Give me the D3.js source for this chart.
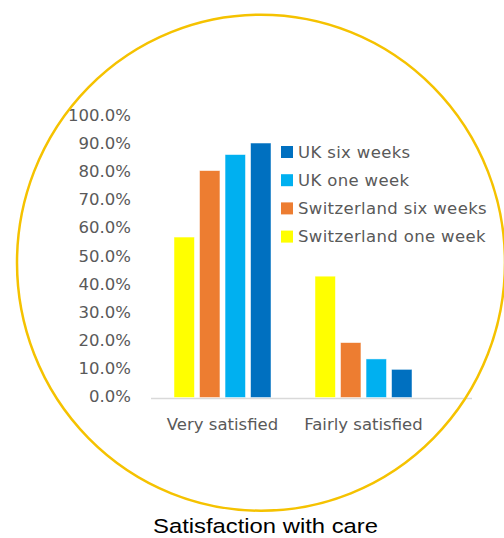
<!DOCTYPE html>
<html><head><meta charset="utf-8">
<script src="https://cdn.jsdelivr.net/npm/d3@7/dist/d3.min.js"></script>
<style>html,body{margin:0;padding:0;background:#fff;}svg{display:block;}</style>
</head><body>
<svg id="chart" width="504" height="538"></svg>
<script>
const categories = ["Very satisfied", "Fairly satisfied"];
const seriesNames = ["Switzerland one week", "Switzerland six weeks", "UK one week", "UK six weeks"];
const switzerlandOneWeek = [57.0, 43.1];
const switzerlandSixWeeks = [80.6, 19.5];
const ukOneWeek = [86.3, 13.7];
const ukSixWeeks = [90.4, 10.0];
const seriesValues = [switzerlandOneWeek, switzerlandSixWeeks, ukOneWeek, ukSixWeeks];
const seriesColors = ["#FFFF00", "#ED7D31", "#00B0F0", "#0070C0"];
const legendOrder = ["UK six weeks", "UK one week", "Switzerland six weeks", "Switzerland one week"];
const yTicks = [0, 10, 20, 30, 40, 50, 60, 70, 80, 90, 100];
const titleText = "Satisfaction with care";

const svg = d3.select("#chart");
const grayFont = "'DejaVu Sans', 'Open Sans', sans-serif";
const textGray = "#595959";
const fs = 16.5;

const y = d3.scaleLinear().domain([0, 100]).range([397.5, 116]);
const x0 = d3.scaleBand().domain(categories).range([152, 434]);
const x1 = d3.scaleBand().domain(seriesNames).range([22, 119]).paddingInner(0.2);
const color = d3.scaleOrdinal().domain(seriesNames).range(seriesColors);

// axis baseline
svg.append("line").attr("x1", 151).attr("x2", 472)
  .attr("y1", y(0) + 1).attr("y2", y(0) + 1)
  .attr("stroke", "#d9d9d9").attr("stroke-width", 1.5);

// y axis
const yAxis = d3.axisLeft(y).tickValues(yTicks).tickSize(0).tickPadding(0)
  .tickFormat(d => d3.format(".1f")(d) + "%");
const gy = svg.append("g").attr("transform", "translate(131,-1)").call(yAxis);
gy.select(".domain").remove();
gy.selectAll("text").attr("fill", textGray).attr("font-family", grayFont).attr("font-size", fs);

// bars
const rows = categories.map((c, i) => ({cat: c, vals: seriesNames.map((s, j) => ({s, v: seriesValues[j][i]}))}));
const g = svg.append("g").selectAll("g").data(rows).join("g")
  .attr("transform", d => `translate(${x0(d.cat)},0)`);
g.selectAll("rect").data(d => d.vals).join("rect")
  .attr("x", d => x1(d.s)).attr("width", x1.bandwidth())
  .attr("y", d => y(d.v)).attr("height", d => y(0) - y(d.v))
  .attr("fill", d => color(d.s))
  .attr("stroke", "rgba(255,255,255,0.6)").attr("stroke-width", 0.8);

// x axis labels
const xAxis = d3.axisBottom(x0).tickSize(0).tickPadding(0);
const gx = svg.append("g").attr("transform", "translate(0,418)").call(xAxis);
gx.select(".domain").remove();
gx.selectAll("text").attr("fill", textGray).attr("font-family", grayFont).attr("font-size", fs);

// legend
const lg = svg.append("g").selectAll("g").data(legendOrder).join("g")
  .attr("transform", (d, i) => `translate(281,${146 + i * 28.2})`);
lg.append("rect").attr("width", 12).attr("height", 12).attr("fill", d => color(d));
lg.append("text").attr("x", 17).attr("y", 6).attr("dy", "0.35em")
  .attr("fill", textGray).attr("font-family", grayFont).attr("font-size", fs)
  .attr("letter-spacing", 0.35).text(d => d);

// circle
svg.append("ellipse").attr("cx", 261).attr("cy", 262.7).attr("rx", 244).attr("ry", 248)
  .attr("fill", "none").attr("stroke", "#F5C200").attr("stroke-width", 2.5);

// title
svg.append("text").attr("x", 265.5).attr("y", 533).attr("text-anchor", "middle")
  .attr("font-family", "'Liberation Sans', Arial, sans-serif").attr("font-size", 20.5).attr("fill", "#000")
  .attr("textLength", 225).attr("lengthAdjust", "spacingAndGlyphs")
  .text(titleText);
</script>
</body></html>
